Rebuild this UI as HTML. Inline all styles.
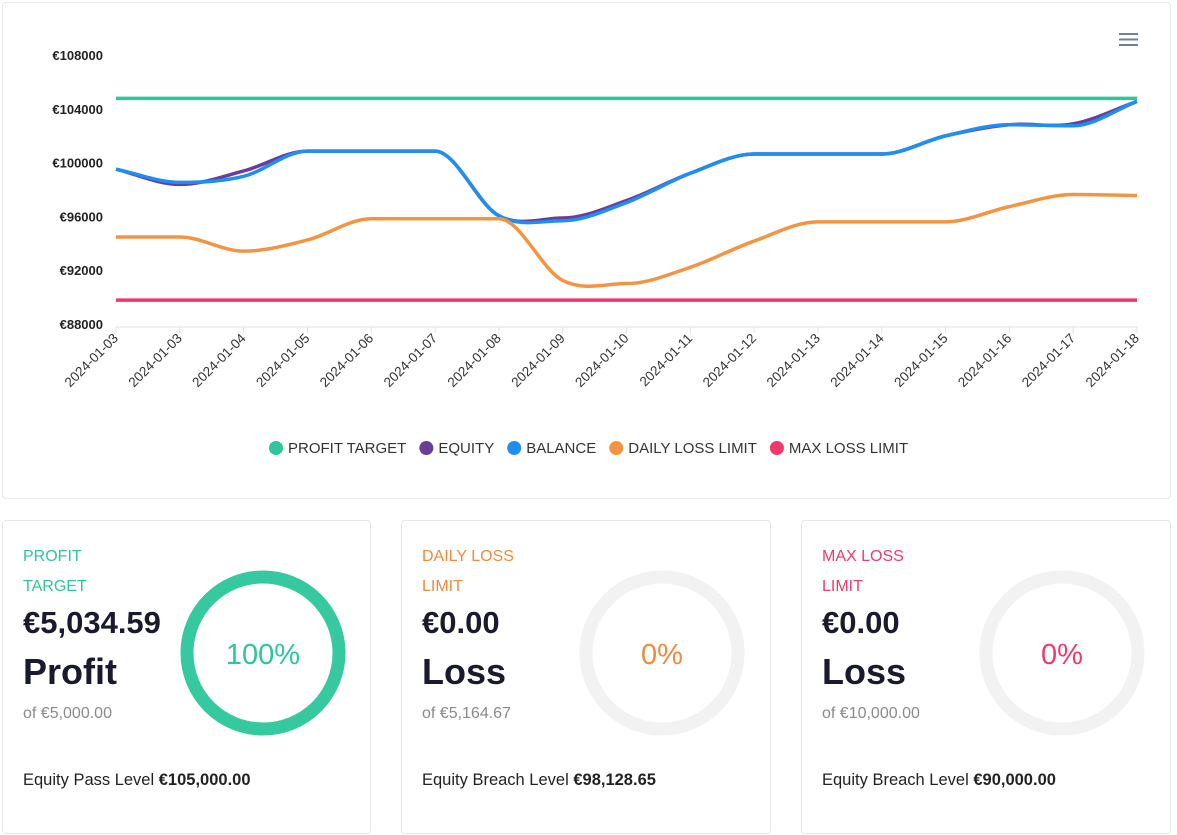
<!DOCTYPE html>
<html><head><meta charset="utf-8"><style>
body{margin:0;width:1177px;height:835px;background:#fff;font-family:"Liberation Sans",sans-serif;position:relative;overflow:hidden}
.card{position:absolute;border:1px solid #e6e6e6;border-radius:4px;background:#fff;box-sizing:border-box}
.t{position:absolute;white-space:nowrap}
.lbl{font-size:16px;line-height:30px}
.amt{font-size:31px;font-weight:bold;color:#1a1a2e}
.big{font-size:36px;font-weight:bold;color:#1a1a2e}
.of{font-size:16px;color:#8a8a8a}
.lev{font-size:16.5px;color:#222}
</style></head><body>
<div class="card" style="left:2px;top:2px;width:1169px;height:497px">
<svg id="chart" width="1169" height="497" style="position:absolute;left:-2px;top:-2px"></svg>
</div>

<div class="card" style="left:2px;top:520px;width:369px;height:314px">
<div class="t lbl" style="left:20px;top:21px;color:#2fc59b">PROFIT<br>TARGET</div>
<div class="t amt" style="left:20px;top:84px">€5,034.59</div>
<div class="t big" style="left:20px;top:130px">Profit</div>
<div class="t of" style="left:20px;top:184px">of €5,000.00</div>
<div class="t lev" style="left:20px;top:250px">Equity Pass Level <b>€105,000.00</b></div>
<svg style="position:absolute;left:175px;top:46px" width="172" height="172"><circle cx="85" cy="86" r="76" fill="none" stroke="#36c9a0" stroke-width="13"/><text x="85" y="97" text-anchor="middle" font-size="29" fill="#2fc59b" font-family="Liberation Sans">100%</text></svg>
</div>

<div class="card" style="left:401px;top:520px;width:370px;height:314px">
<div class="t lbl" style="left:20px;top:21px;color:#f08a3c">DAILY LOSS<br>LIMIT</div>
<div class="t amt" style="left:20px;top:84px">€0.00</div>
<div class="t big" style="left:20px;top:130px">Loss</div>
<div class="t of" style="left:20px;top:184px">of €5,164.67</div>
<div class="t lev" style="left:20px;top:250px">Equity Breach Level <b>€98,128.65</b></div>
<svg style="position:absolute;left:175px;top:46px" width="172" height="172"><circle cx="85" cy="86" r="76" fill="none" stroke="#f2f2f2" stroke-width="13"/><text x="85" y="97" text-anchor="middle" font-size="29" fill="#f08a3c" font-family="Liberation Sans">0%</text></svg>
</div>

<div class="card" style="left:801px;top:520px;width:370px;height:314px">
<div class="t lbl" style="left:20px;top:21px;color:#ef3a6d">MAX LOSS<br>LIMIT</div>
<div class="t amt" style="left:20px;top:84px">€0.00</div>
<div class="t big" style="left:20px;top:130px">Loss</div>
<div class="t of" style="left:20px;top:184px">of €10,000.00</div>
<div class="t lev" style="left:20px;top:250px">Equity Breach Level <b>€90,000.00</b></div>
<svg style="position:absolute;left:175px;top:46px" width="172" height="172"><circle cx="85" cy="86" r="76" fill="none" stroke="#f2f2f2" stroke-width="13"/><text x="85" y="97" text-anchor="middle" font-size="29" fill="#ef3a6d" font-family="Liberation Sans">0%</text></svg>
</div>

<script>
const categories=["2024-01-03","2024-01-03","2024-01-04","2024-01-05","2024-01-06","2024-01-07","2024-01-08","2024-01-09","2024-01-10","2024-01-11","2024-01-12","2024-01-13","2024-01-14","2024-01-15","2024-01-16","2024-01-17","2024-01-18"];
const profitTarget=[105000,105000,105000,105000,105000,105000,105000,105000,105000,105000,105000,105000,105000,105000,105000,105000,105000];
const equity=[99730,98600,99600,101080,101080,101080,96270,96100,97400,99430,100860,100860,100860,102210,103040,103100,104770];
const balance=[99730,98750,99200,101080,101080,101080,96270,95900,97250,99430,100860,100860,100860,102210,103040,102960,104770];
const dailyLoss=[94690,94690,93640,94470,96050,96050,96050,91460,91230,92440,94390,95820,95820,95820,96950,97850,97780];
const maxLoss=[90000,90000,90000,90000,90000,90000,90000,90000,90000,90000,90000,90000,90000,90000,90000,90000,90000];
const yTicks=[88000,92000,96000,100000,104000,108000];
const seriesNames=["PROFIT TARGET","EQUITY","BALANCE","DAILY LOSS LIMIT","MAX LOSS LIMIT"];
const seriesColors=["#2ec79c","#6a3d9a","#1f8ef1","#f39443","#f0386b"];

const NS="http://www.w3.org/2000/svg";
const svg=document.getElementById('chart');
const X0=115,X1=1136,Y0=326,Y1=57;
const xs=i=>X0+i*(X1-X0)/(categories.length-1);
const ys=v=>Y0-(v-88000)/(108000-88000)*(Y0-Y1);
function mk(t,a){const e=document.createElementNS(NS,t);for(const k in a)e.setAttribute(k,a[k]);svg.appendChild(e);return e;}
yTicks.forEach(v=>{const e=mk('text',{x:102,y:ys(v)+2,'text-anchor':'end','font-size':13,'font-weight':'bold',fill:'#222','font-family':'Liberation Sans'});e.textContent='€'+v;

});
const ax=mk('line',{x1:X0,x2:X1,y1:Y0,y2:Y0,stroke:'#e0e0e0','stroke-width':1});


categories.forEach((c,i)=>{const x=xs(i);
mk('line',{x1:x,x2:x,y1:Y0,y2:Y0+6,stroke:'#e0e0e0'});
const e=mk('text',{x:x+3,y:Y0+12,'text-anchor':'end','font-size':13.5,fill:'#333','font-family':'Liberation Sans',transform:`rotate(-45 ${x+3} ${Y0+12})`});e.textContent=c;

});
function path(vals){const p=vals.map((v,i)=>[xs(i),ys(v)]);const n=p.length;const d=[],m=[];
for(let i=0;i<n-1;i++)d.push((p[i+1][1]-p[i][1])/(p[i+1][0]-p[i][0]));
for(let i=0;i<n;i++){if(i==0)m.push(d[0]);else if(i==n-1)m.push(d[n-2]);else m.push(d[i-1]*d[i]<=0?0:(d[i-1]+d[i])/2);}
let s=`M${p[0][0]},${p[0][1]}`;for(let i=0;i<n-1;i++){const h=(p[i+1][0]-p[i][0])/3;s+=` C${p[i][0]+h},${p[i][1]+m[i]*h} ${p[i+1][0]-h},${p[i+1][1]-m[i+1]*h} ${p[i+1][0]},${p[i+1][1]}`;}return s;}
const allSeries=[profitTarget,equity,balance,dailyLoss,maxLoss];
const seriesKeys=['profit-target-line','equity-line','balance-line','daily-loss-line','max-loss-line'];
allSeries.forEach((s,k)=>{const e=mk('path',{d:path(s),fill:'none',stroke:seriesColors[k],'stroke-width':3.5});

});
let lx=268;const ly=447;
seriesNames.forEach((n,k)=>{const c=mk('circle',{cx:lx+7,cy:ly,r:7,fill:seriesColors[k]});


const t=mk('text',{x:lx+19,y:ly+5,'font-size':15,fill:'#333','font-family':'Liberation Sans'});t.textContent=n;


lx+=19+t.getComputedTextLength()+13;});
const g=mk('g',{});

[33,38.5,44].forEach(y=>{const l=document.createElementNS(NS,'line');l.setAttribute('x1',1118);l.setAttribute('x2',1137);l.setAttribute('y1',y);l.setAttribute('y2',y);l.setAttribute('stroke','#6e8192');l.setAttribute('stroke-width',2);g.appendChild(l);});
</script>
</body></html>
